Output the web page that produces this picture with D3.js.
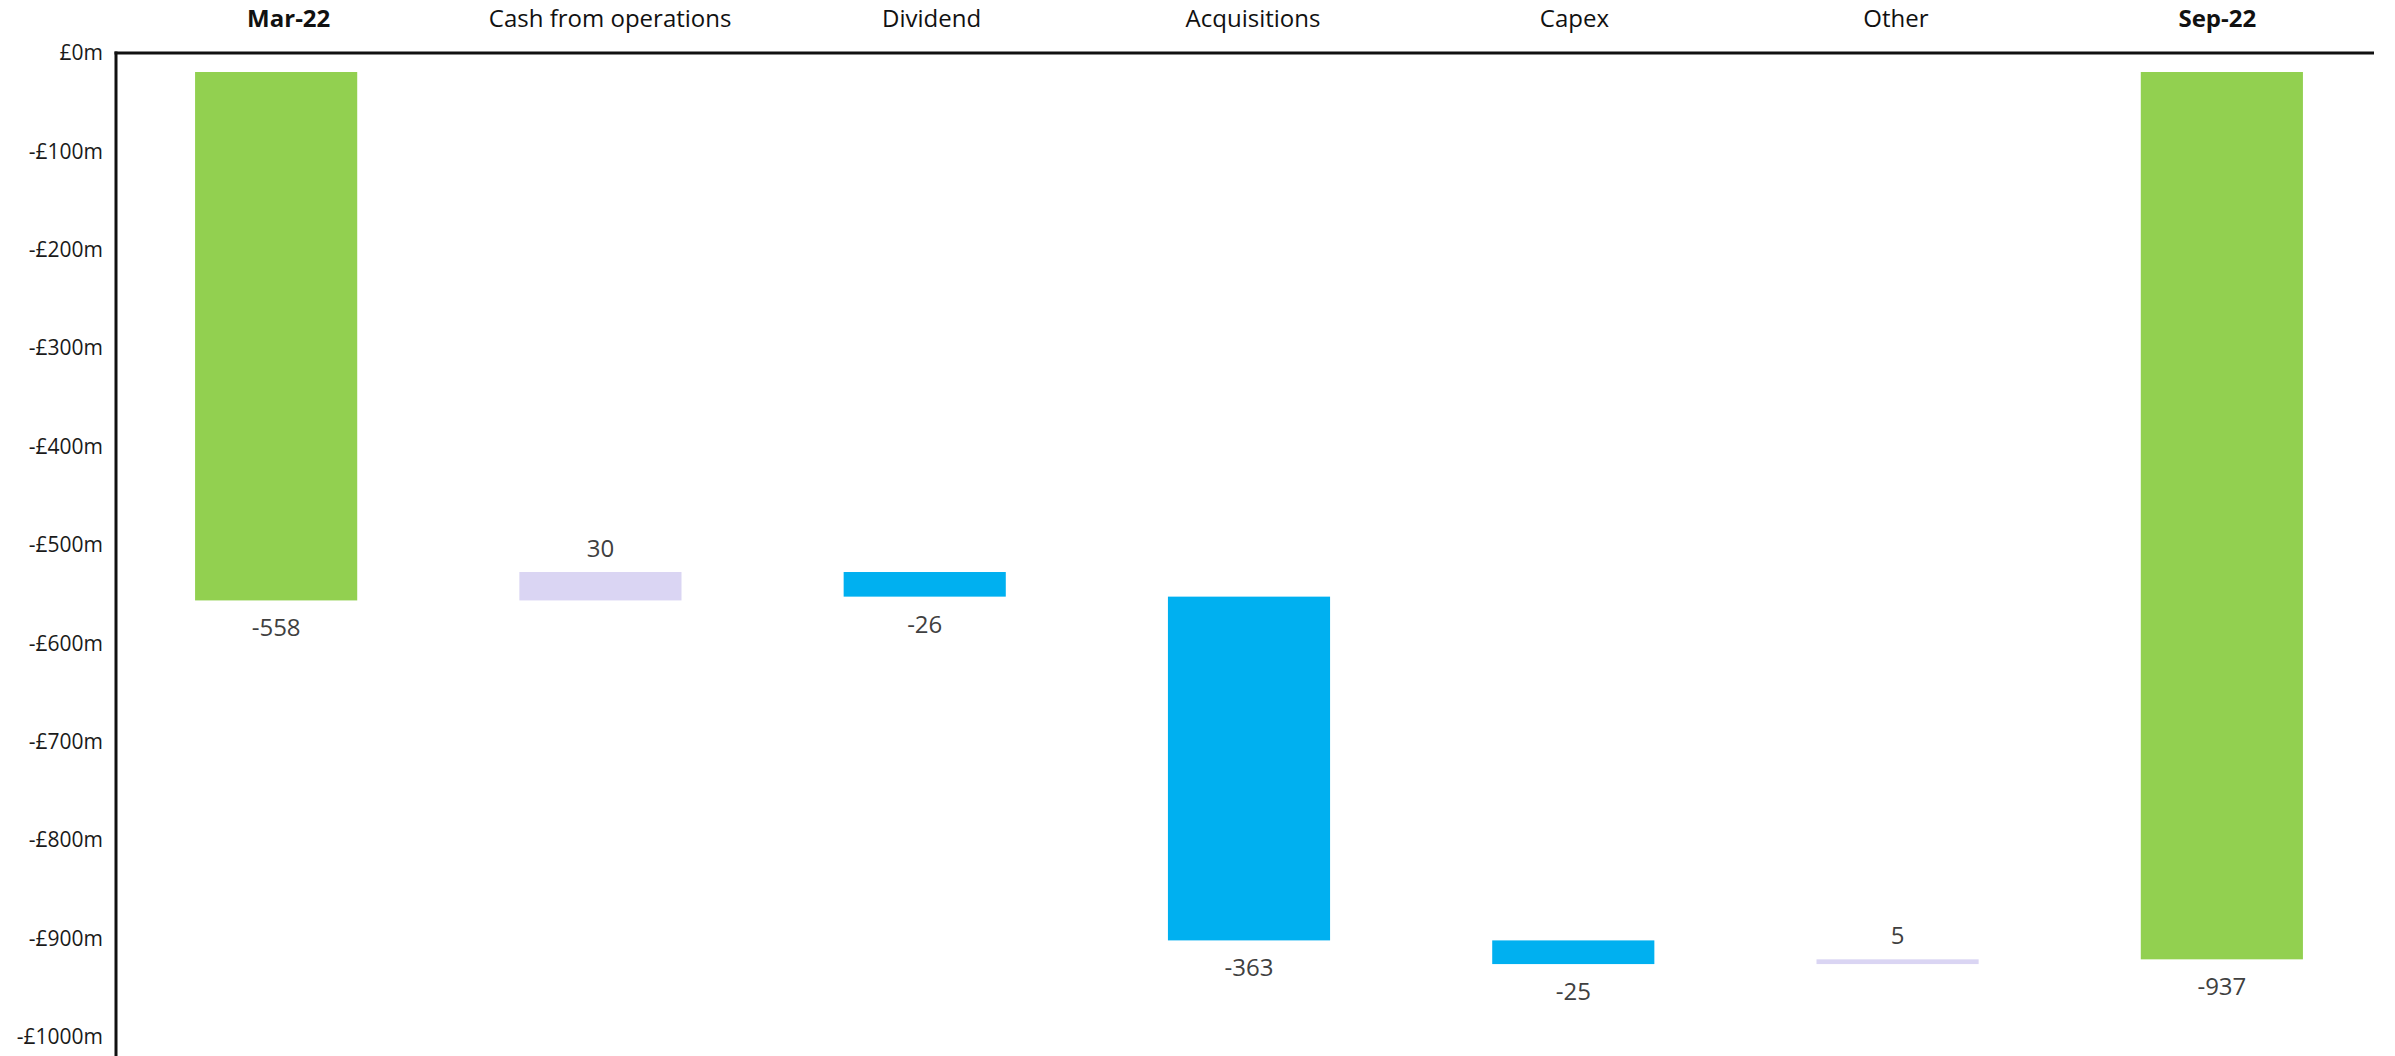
<!DOCTYPE html>
<html>
<head>
<meta charset="utf-8">
<script src="https://cdn.jsdelivr.net/npm/d3@7"></script>
<style>
  html, body { margin: 0; padding: 0; background: #fff; }
  svg { display: block; font-family: "Open Sans", "Noto Sans", sans-serif; }
</style>
</head>
<body>
<svg id="chart" width="2395" height="1056"></svg>
<script>
// ---- data ----
const categories = ["Mar-22", "Cash from operations", "Dividend", "Acquisitions", "Capex", "Other", "Sep-22"];
const kinds      = ["total", "delta", "delta", "delta", "delta", "delta", "total"];
const values     = [-558, 30, -26, -363, -25, 5, -937];
const boldCategories = ["Mar-22", "Sep-22"];
const yTickValues = [0, -100, -200, -300, -400, -500, -600, -700, -800, -900, -1000];
const yTickLabels = ["£0m", "-£100m", "-£200m", "-£300m", "-£400m", "-£500m", "-£600m", "-£700m", "-£800m", "-£900m", "-£1000m"];

// ---- waterfall segments ----
let running = 0;
const segs = categories.map((c, i) => {
  let start, end;
  if (kinds[i] === "total") { start = 0; end = values[i]; running = values[i]; }
  else { start = running; end = running + values[i]; running = end; }
  return { cat: c, kind: kinds[i], value: values[i], start, end };
});

const colorFor = d => d.kind === "total" ? "#92D050" : (d.value >= 0 ? "#DAD5F3" : "#00B0F0");

const svg = d3.select("#chart");

// scales
const xBar = d3.scaleBand().domain(categories).range([114, 2384]).paddingInner(0.5).paddingOuter(0.25);
const xLab = d3.scaleBand().domain(categories).range([128, 2378]).paddingInner(0.5).paddingOuter(0.25);
const yAxisScale = d3.scaleLinear().domain([0, -1000]).range([53, 1037]);
const yBar = d3.scaleLinear().domain([0, -1000]).range([72, 1019]);

// bars
svg.append("g").selectAll("rect").data(segs).join("rect")
  .attr("x", d => xBar(d.cat))
  .attr("width", xBar.bandwidth())
  .attr("y", d => yBar(Math.max(d.start, d.end)))
  .attr("height", d => Math.max(3, Math.abs(yBar(d.end) - yBar(d.start))))
  .attr("fill", colorFor);

// value labels
svg.append("g").selectAll("text").data(segs).join("text")
  .attr("x", d => xBar(d.cat) + xBar.bandwidth() / 2)
  .attr("y", d => d.value >= 0 ? yBar(Math.max(d.start, d.end)) - 15 : yBar(Math.min(d.start, d.end)) + 36)
  .attr("text-anchor", "middle")
  .attr("font-size", 24)
  .attr("fill", "#404040")
  .text(d => d.value);

// left axis
const yAxisG = svg.append("g").attr("transform", "translate(116,0)")
  .call(d3.axisLeft(yAxisScale).tickValues(yTickValues).tickSize(0).tickPadding(13)
    .tickFormat((d, i) => yTickLabels[i]));
yAxisG.select(".domain").remove();
yAxisG.selectAll("text").attr("font-size", 21).attr("fill", "#1a1a1a").attr("font-family", "Open Sans, sans-serif");
yAxisG.append("line").attr("x1", 0).attr("x2", 0).attr("y1", yAxisScale(0) - 1.5).attr("y2", 1056)
  .attr("stroke", "#111").attr("stroke-width", 3);

// top zero line
svg.append("line").attr("x1", 114.5).attr("x2", 2374)
  .attr("y1", yAxisScale(0)).attr("y2", yAxisScale(0))
  .attr("stroke", "#111").attr("stroke-width", 3);

// category labels on top
const xAxisG = svg.append("g").attr("transform", "translate(0,27)")
  .call(d3.axisTop(xLab).tickSize(0).tickPadding(0));
xAxisG.select(".domain").remove();
xAxisG.selectAll("text")
  .attr("font-size", 24)
  .attr("fill", "#111")
  .attr("font-family", "Open Sans, sans-serif")
  .attr("font-weight", d => boldCategories.includes(d) ? 700 : 400);
</script>
</body>
</html>
